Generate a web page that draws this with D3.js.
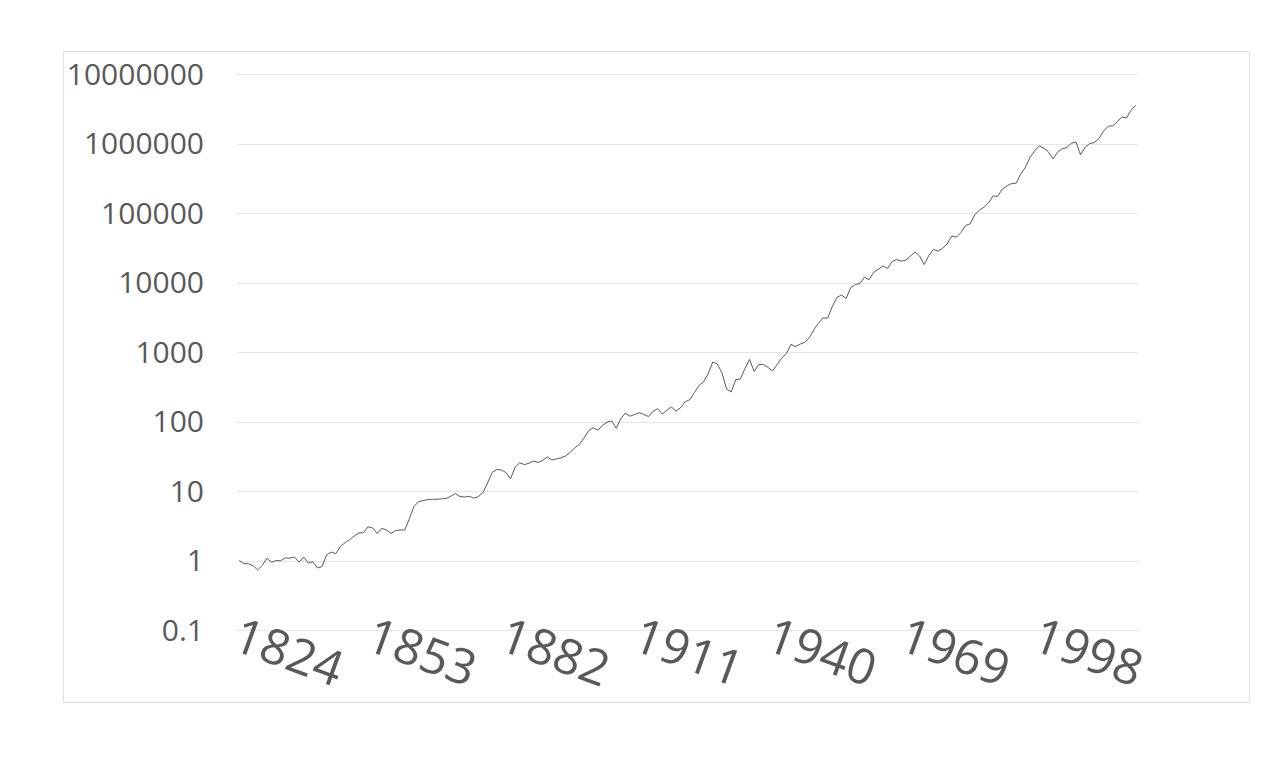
<!DOCTYPE html>
<html>
<head>
<meta charset="utf-8">
<script src="https://cdn.jsdelivr.net/npm/d3@7"></script>
<style>
  body { margin: 0; background: #fff; }
  text { font-family: "Open Sans", sans-serif; fill: #595959; }
</style>
</head>
<body>
<div id="my_dataviz"></div>
<script>
// yearly values, 1824 .. 2019
var startYear = 1824;
var values = [
  1.0, 0.9, 0.9, 0.84, 0.73, 0.85, 1.08, 0.94, 1.0, 0.99,
  1.09, 1.08, 1.12, 0.95, 1.12, 0.92, 0.96, 0.78, 0.82, 1.21,
  1.32, 1.25, 1.6, 1.8, 2.0, 2.25, 2.5, 2.5, 3.05, 2.95,
  2.45, 2.9, 2.75, 2.45, 2.7, 2.75, 2.75, 4.0, 6.0, 7.0,
  7.3, 7.5, 7.6, 7.6, 7.7, 7.8, 8.4, 9.2, 8.3, 8.2,
  8.4, 7.9, 8.3, 9.5, 13, 18.5, 20.4, 20.0, 18.5, 15.0,
  22, 25.5, 24, 25, 27, 25.8, 27.5, 31, 28, 29,
  30, 32, 36, 42, 47, 58, 74, 81, 75, 88,
  98, 102, 80, 110, 132, 119, 126, 134, 126, 118,
  140, 153, 128, 145, 162, 141, 158, 192, 206, 260,
  330, 372, 488, 718, 670, 500, 292, 266, 400, 410,
  577, 780, 525, 660, 660, 600, 535, 660, 819, 948,
  1290, 1200, 1300, 1380, 1600, 2100, 2600, 3090, 3090, 4500,
  6100, 6600, 5900, 8400, 9350, 9650, 11900, 11000, 14000, 15500,
  17300, 16000, 20000, 21400, 20300, 21000, 24000, 27500, 24000, 18100,
  24500, 29900, 28200, 31000, 36000, 46500, 45000, 52500, 66000, 70000,
  94000, 110000, 121000, 140000, 176000, 174000, 222000, 245000, 266000, 268000,
  363000, 455000, 630000, 780000, 925000, 860000, 760000, 600000, 750000, 840000,
  870000, 1010000, 1050000, 690000, 880000, 1000000, 1030000, 1180000, 1500000, 1770000,
  1800000, 2050000, 2420000, 2330000, 3000000, 3560000
];
var years = values.map(function(d, i) { return startYear + i; });

var yTicks = [0.1, 1, 10, 100, 1000, 10000, 100000, 1000000, 10000000];
var xTickYears = [1824, 1853, 1882, 1911, 1940, 1969, 1998];

var W = 1280, H = 783;
var plot = {left: 237, right: 1138, top: 74, bottom: 630};

var svg = d3.select("#my_dataviz")
  .append("svg")
    .attr("width", W)
    .attr("height", H);

// chart frame
svg.append("rect")
  .attr("x", 63.5).attr("y", 51.5)
  .attr("width", 1186).attr("height", 651)
  .attr("fill", "#fff")
  .attr("stroke", "#e0e0e0");

var x = d3.scaleBand()
  .domain(years)
  .range([plot.left, plot.right])
  .padding(0);

var y = d3.scaleLog()
  .domain([0.1, 10000000])
  .range([plot.bottom, plot.top]);

// gridlines
svg.selectAll(".grid")
  .data(yTicks)
  .enter().append("line")
    .attr("class", "grid")
    .attr("x1", plot.left).attr("x2", plot.right)
    .attr("y1", function(d) { return Math.round(y(d)) + 0.5; })
    .attr("y2", function(d) { return Math.round(y(d)) + 0.5; })
    .attr("stroke", "#e6e6e6")
    .attr("stroke-width", 1);

// y labels
svg.selectAll(".ylab")
  .data(yTicks)
  .enter().append("text")
    .attr("class", "ylab")
    .attr("x", 204)
    .attr("y", function(d) { return y(d); })
    .attr("dy", "0.35em")
    .attr("text-anchor", "end")
    .style("font-size", "30px")
    .text(function(d) { return d < 1 ? "0.1" : d3.format("d")(d); });

// x labels, rotated
svg.selectAll(".xlab")
  .data(xTickYears)
  .enter().append("text")
    .attr("class", "xlab")
    .attr("text-anchor", "start")
    .style("font-size", "49px")
    .attr("transform", function(d) {
      return "translate(" + (x(d) - 7) + ",649) rotate(20)";
    })
    .text(function(d) { return d; });

// the series
var line = d3.line()
  .x(function(d, i) { return x(years[i]) + x.bandwidth() / 2; })
  .y(function(d) { return y(d); });

svg.append("path")
  .datum(values)
  .attr("d", line)
  .attr("fill", "none")
  .attr("stroke", "#595959")
  .attr("stroke-width", 1)
  .attr("stroke-linejoin", "round");
</script>
</body>
</html>
